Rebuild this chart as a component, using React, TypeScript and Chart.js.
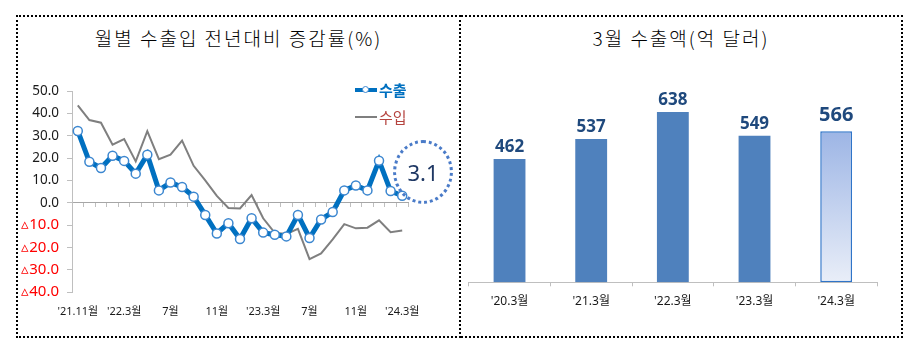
import { useEffect, useRef } from "react";
import { Chart, registerables } from "chart.js";

Chart.register(...registerables);

// ---- Left chart data (monthly YoY growth, %) ----
const months = [
  "'21.11", "'21.12", "'22.1", "'22.2", "'22.3", "'22.4", "'22.5", "'22.6", "'22.7", "'22.8",
  "'22.9", "'22.10", "'22.11", "'22.12", "'23.1", "'23.2", "'23.3", "'23.4", "'23.5", "'23.6",
  "'23.7", "'23.8", "'23.9", "'23.10", "'23.11", "'23.12", "'24.1", "'24.2", "'24.3",
];
const xTickLabels = ["'21.11월", "'22.3월", "7월", "11월", "'23.3월", "7월", "11월", "'24.3월"];
const exportGrowth = [
  32.1, 18.3, 15.5, 21.0, 18.7, 13.0, 21.5, 5.5, 9.0, 7.0,
  2.7, -5.5, -13.8, -9.2, -16.3, -7.0, -13.4, -14.4, -15.1, -5.5,
  -15.8, -7.5, -4.2, 5.5, 7.7, 5.5, 18.8, 5.2, 3.1,
];
const importGrowth = [
  43.6, 37.0, 35.8, 26.0, 28.5, 18.5, 32.0, 19.5, 21.5, 27.8,
  16.5, 10.0, 3.0, -2.4, -2.6, 3.4, -7.0, -13.5, -14.0, -11.7,
  -25.3, -22.7, -16.4, -9.6, -11.5, -11.2, -7.9, -13.2, -12.5,
];
const seriesNames = ["수출", "수입"];
const calloutValue = "3.1";

// ---- Right chart data (March exports, 100M USD) ----
const barCategories = ["'20.3월", "'21.3월", "'22.3월", "'23.3월", "'24.3월"];
const marchExports = [462, 537, 638, 549, 566];

const leftTitle = "월별 수출입 전년대비 증감률(%)";
const rightTitle = "3월 수출액(억 달러)";

const CJK = "'Noto Sans CJK KR', 'Noto Sans', sans-serif";
const SANS = "'Noto Sans', 'Noto Sans CJK KR', sans-serif";

const barLabelPlugin = {
  id: "barLabels",
  afterDatasetsDraw(chart: any) {
    const ctx = chart.ctx;
    const meta = chart.getDatasetMeta(0);
    meta.data.forEach((el: any, i: number) => {
      const last = i === marchExports.length - 1;
      ctx.save();
      ctx.font = `bold ${last ? 20 : 17}px ${SANS}`;
      ctx.fillStyle = "#1F497D";
      ctx.textAlign = "center";
      ctx.textBaseline = "alphabetic";
      ctx.fillText(String(marchExports[i]), el.x, el.y - (last ? 10 : 7));
      ctx.restore();
    });
  },
};

export default function App() {
  const leftRef = useRef<HTMLCanvasElement>(null);
  const rightRef = useRef<HTMLCanvasElement>(null);

  useEffect(() => {
    const left = new Chart(leftRef.current as HTMLCanvasElement, {
      type: "line",
      data: {
        labels: months,
        datasets: [
          {
            label: seriesNames[0],
            data: exportGrowth,
            borderColor: "#0070C0",
            borderWidth: 5,
            pointRadius: 4.5,
            pointBorderWidth: 1.5,
            pointBackgroundColor: "#FFFFFF",
            pointBorderColor: "#3C87D0",
            tension: 0,
            xAxisID: "x",
          },
          {
            label: seriesNames[1],
            data: importGrowth,
            borderColor: "#7F7F7F",
            borderWidth: 2,
            pointRadius: 0,
            tension: 0,
            xAxisID: "x",
          },
        ],
      },
      options: {
        animation: false,
        responsive: false,
        layout: { padding: { left: 0, right: 51, top: 75, bottom: 14 } },
        plugins: { legend: { display: false }, tooltip: { enabled: false }, title: { display: false } },
        scales: {
          x: {
            type: "category",
            position: "bottom",
            offset: true,
            grid: { display: false, drawTicks: false },
            border: { display: false },
            ticks: {
              autoSkip: false,
              maxRotation: 0,
              padding: 13,
              color: "#1A1A1A",
              font: { family: SANS, size: 11 },
              callback: (_v: any, i: number) => (i % 4 === 0 ? xTickLabels[i / 4] : ""),
            },
            afterFit: (s: any) => {
              s.height = 30;
            },
          },
          x2: {
            type: "category",
            position: { y: 0 } as any,
            offset: true,
            grid: {
              display: true,
              offset: true,
              drawOnChartArea: false,
              drawTicks: true,
              tickLength: 4,
              color: "#BFBFBF",
            },
            border: { display: true, color: "#A6A6A6", width: 1 },
            ticks: { display: false },
          },
          y: {
            min: -40,
            max: 50,
            grid: {
              drawOnChartArea: false,
              drawTicks: true,
              tickLength: 5,
              color: "#BFBFBF",
            },
            border: { display: true, color: "#BFBFBF", width: 1 },
            ticks: {
              stepSize: 10,
              padding: 8,
              color: (c: any) => (c.tick && c.tick.value < 0 ? "#FF0000" : "#1A1A1A"),
              font: (c: any) => ({ family: SANS, size: c.tick && c.tick.value < 0 ? 15 : 13.5 }),
              callback: (v: any) => {
                const n = Number(v);
                return n < 0 ? "▵" + Math.abs(n).toFixed(1) : n.toFixed(1);
              },
            },
            afterFit: (s: any) => {
              s.width = 56;
            },
          },
        },
      },
    } as any);

    const right = new Chart(rightRef.current as HTMLCanvasElement, {
      type: "bar",
      data: {
        labels: barCategories,
        datasets: [
          {
            data: marchExports,
            categoryPercentage: 1,
            barPercentage: 0.39,
            backgroundColor: (c: any) => {
              if (c.dataIndex !== marchExports.length - 1) return "#4F81BD";
              const chart = c.chart;
              const area = chart.chartArea;
              if (!area || !chart.scales.y) return "#BFCDEB";
              const top = chart.scales.y.getPixelForValue(marchExports[c.dataIndex]);
              const g = chart.ctx.createLinearGradient(0, top, 0, area.bottom);
              g.addColorStop(0, "#9DB5E5");
              g.addColorStop(1, "#E9EEF8");
              return g;
            },
            borderColor: "#2F74C8",
            borderWidth: (c: any) => (c.dataIndex === marchExports.length - 1 ? 1.5 : 0),
            borderSkipped: false,
          },
        ],
      },
      options: {
        animation: false,
        responsive: false,
        layout: { padding: { left: 8.7, right: 25, top: 79.5, bottom: 23.7 } },
        plugins: { legend: { display: false }, tooltip: { enabled: false } },
        scales: {
          x: {
            offset: true,
            grid: {
              offset: true,
              drawOnChartArea: false,
              drawTicks: true,
              tickLength: 4,
              color: "#BFBFBF",
            },
            border: { display: true, color: "#BFBFBF", width: 1 },
            ticks: {
              padding: 8,
              maxRotation: 0,
              color: "#1A1A1A",
              font: { family: SANS, size: 12 },
            },
            afterFit: (s: any) => {
              s.height = 30;
            },
          },
          y: { display: false, min: 0, max: 700 },
        },
      },
      plugins: [barLabelPlugin],
    } as any);

    return () => {
      left.destroy();
      right.destroy();
    };
  }, []);

  return (
    <div
      style={{
        position: "absolute",
        left: 0,
        top: 0,
        width: 916,
        height: 353,
        background: "#FFFFFF",
        overflow: "hidden",
        fontFamily: CJK,
      }}
    >
      {/* panel borders */}
      <div
        style={{
          position: "absolute",
          left: 16,
          top: 15,
          width: 445,
          height: 323,
          boxSizing: "border-box",
          border: "2px dotted #000",
        }}
      />
      <div
        style={{
          position: "absolute",
          left: 461,
          top: 15,
          width: 442,
          height: 323,
          boxSizing: "border-box",
          border: "2px dotted #000",
          borderLeft: "none",
        }}
      />

      {/* titles */}
      <div
        style={{
          position: "absolute",
          left: 16,
          top: 26,
          width: 445,
          height: 24,
          lineHeight: "24px",
          textAlign: "center",
          fontSize: 19,
          fontWeight: 300,
          letterSpacing: 2,
          color: "#000",
          whiteSpace: "nowrap",
        }}
      >
        {leftTitle}
      </div>
      <div
        style={{
          position: "absolute",
          left: 459,
          top: 26,
          width: 444,
          height: 24,
          lineHeight: "24px",
          textAlign: "center",
          fontSize: 19,
          fontWeight: 300,
          letterSpacing: 2,
          color: "#000",
          whiteSpace: "nowrap",
        }}
      >
        {rightTitle}
      </div>

      <canvas
        ref={leftRef}
        width={443}
        height={320}
        style={{ position: "absolute", left: 16, top: 16, width: 443, height: 320 }}
      />
      <canvas
        ref={rightRef}
        width={442}
        height={320}
        style={{ position: "absolute", left: 460, top: 16, width: 442, height: 320 }}
      />

      {/* legend */}
      <div style={{ position: "absolute", left: 355, top: 87.5, width: 22, height: 4, background: "#0070C0" }} />
      <div
        style={{
          position: "absolute",
          left: 361.5,
          top: 86,
          width: 7,
          height: 7,
          boxSizing: "border-box",
          borderRadius: "50%",
          background: "#fff",
          border: "1.5px solid #3C87D0",
        }}
      />
      <div
        style={{
          position: "absolute",
          left: 379,
          top: 79,
          height: 22,
          lineHeight: "22px",
          fontSize: 15,
          fontWeight: 700,
          color: "#0070C0",
          whiteSpace: "nowrap",
        }}
      >
        {seriesNames[0]}
      </div>
      <div style={{ position: "absolute", left: 355, top: 116, width: 22, height: 2, background: "#7F7F7F" }} />
      <div
        style={{
          position: "absolute",
          left: 379,
          top: 105.5,
          height: 22,
          lineHeight: "22px",
          fontSize: 15,
          color: "#B5443F",
          whiteSpace: "nowrap",
        }}
      >
        {seriesNames[1]}
      </div>

      {/* callout */}
      <div
        style={{
          position: "absolute",
          left: 393,
          top: 140,
          width: 60,
          height: 64,
          boxSizing: "border-box",
          borderRadius: "50%",
          border: "3px dotted #4A7BC8",
          display: "flex",
          alignItems: "center",
          justifyContent: "center",
          fontFamily: SANS,
          fontSize: 22,
          color: "#1F3864",
        }}
      >
        {calloutValue}
      </div>
    </div>
  );
}
